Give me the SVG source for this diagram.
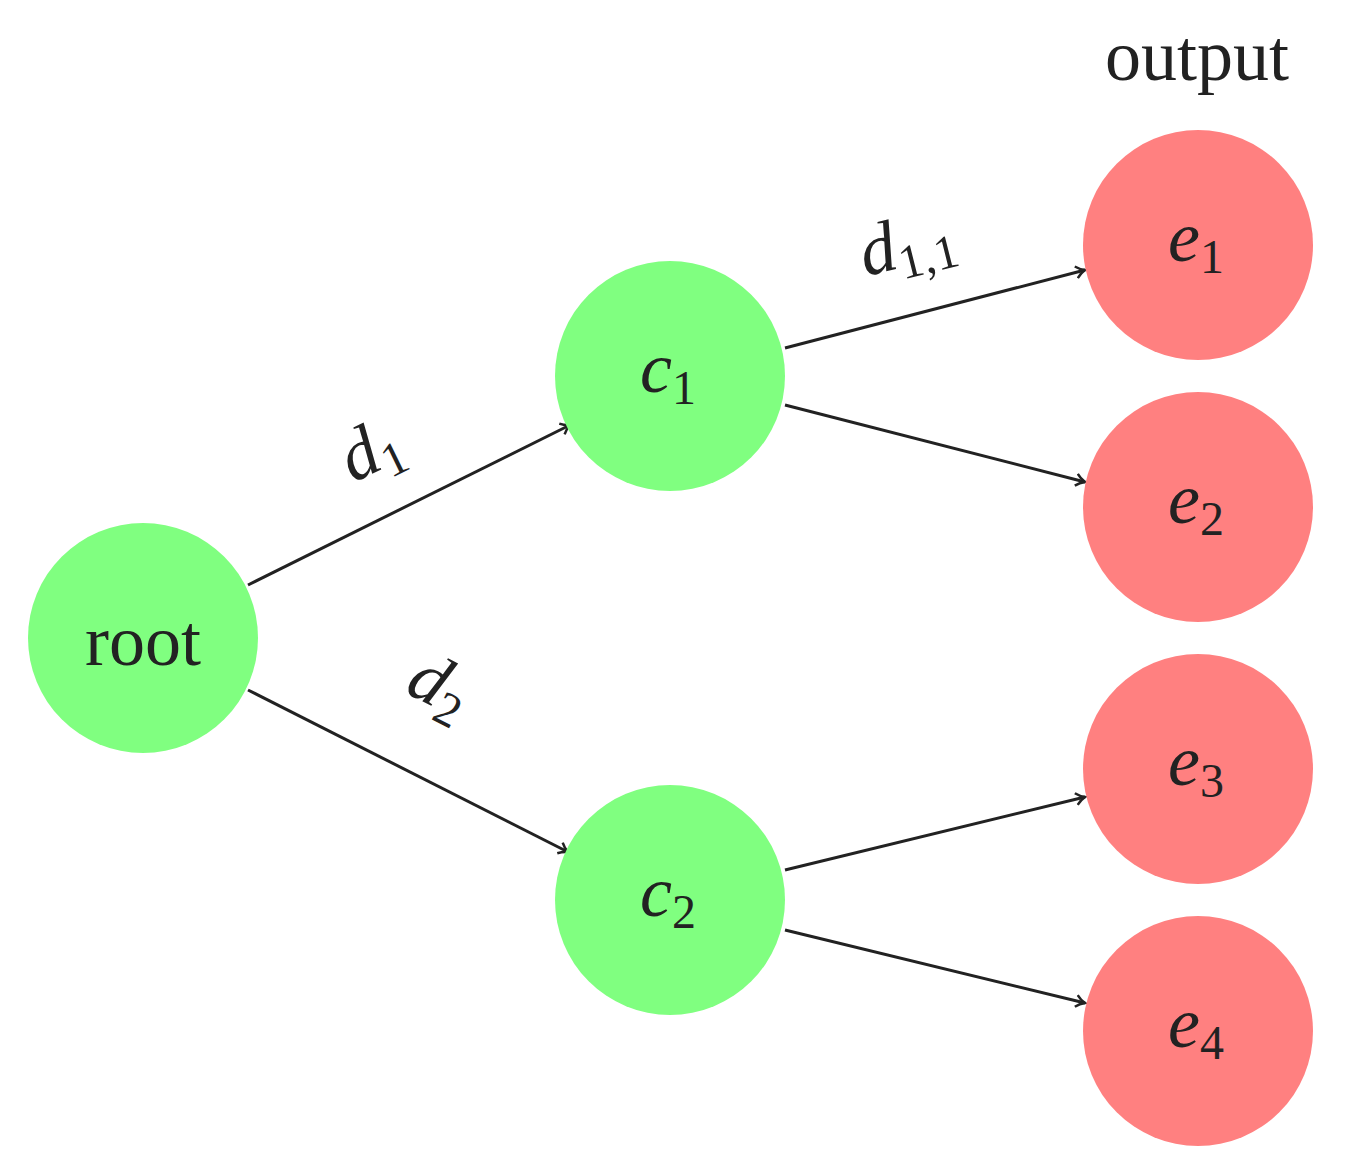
<svg xmlns="http://www.w3.org/2000/svg" width="1357" height="1168" viewBox="0 0 1357 1168">
<style>
.g{fill:#80ff80}.r{fill:#ff8080}
.t{font-family:"Liberation Serif","DejaVu Serif",serif;font-size:72px;fill:#222;text-anchor:middle}
.i{font-style:italic}
.s{font-size:48px;font-style:normal}
.e{stroke:#222;stroke-width:3;fill:none;marker-end:url(#a)}
</style>
<defs><marker id="a" markerWidth="12" markerHeight="14" refX="10" refY="7" orient="auto" markerUnits="userSpaceOnUse"><path d="M1,1 Q5,5 10,7 Q5,9 1,13" fill="none" stroke="#222" stroke-width="2.5"/></marker></defs>
<rect width="1357" height="1168" fill="#fff"/>
<g id="connectors">
<line class="e" x1="248" y1="585" x2="570" y2="425"/>
<line class="e" x1="248" y1="690" x2="568" y2="852"/>
<line class="e" x1="785" y1="348" x2="1085" y2="270"/>
<line class="e" x1="785" y1="405" x2="1085" y2="482"/>
<line class="e" x1="785" y1="870" x2="1085" y2="797"/>
<line class="e" x1="785" y1="930" x2="1085" y2="1003"/>
<text class="t i" transform="translate(380,470) rotate(-26)">d<tspan class="s" dy="12">1</tspan></text>
<text class="t i" transform="translate(430,705) rotate(27)">d<tspan class="s" dy="12">2</tspan></text>
<text class="t i" transform="translate(912,265) rotate(-14)">d<tspan class="s" dy="12">1,1</tspan></text>
</g>
<text class="t" x="1197" y="80">output</text>
<g id="root"><circle class="g" cx="143" cy="638" r="115"/><text class="t" x="143" y="665">root</text></g>
<g id="c1"><circle class="g" cx="670" cy="376" r="115"/><text class="t i" x="668" y="392">c<tspan class="s" dy="12">1</tspan></text></g>
<g id="c2"><circle class="g" cx="670" cy="900" r="115"/><text class="t i" x="668" y="916">c<tspan class="s" dy="12">2</tspan></text></g>
<g id="e1"><circle class="r" cx="1198" cy="245" r="115"/><text class="t i" x="1196" y="261">e<tspan class="s" dy="12">1</tspan></text></g>
<g id="e2"><circle class="r" cx="1198" cy="507" r="115"/><text class="t i" x="1196" y="523">e<tspan class="s" dy="12">2</tspan></text></g>
<g id="e3"><circle class="r" cx="1198" cy="769" r="115"/><text class="t i" x="1196" y="785">e<tspan class="s" dy="12">3</tspan></text></g>
<g id="e4"><circle class="r" cx="1198" cy="1031" r="115"/><text class="t i" x="1196" y="1047">e<tspan class="s" dy="12">4</tspan></text></g>
</svg>
